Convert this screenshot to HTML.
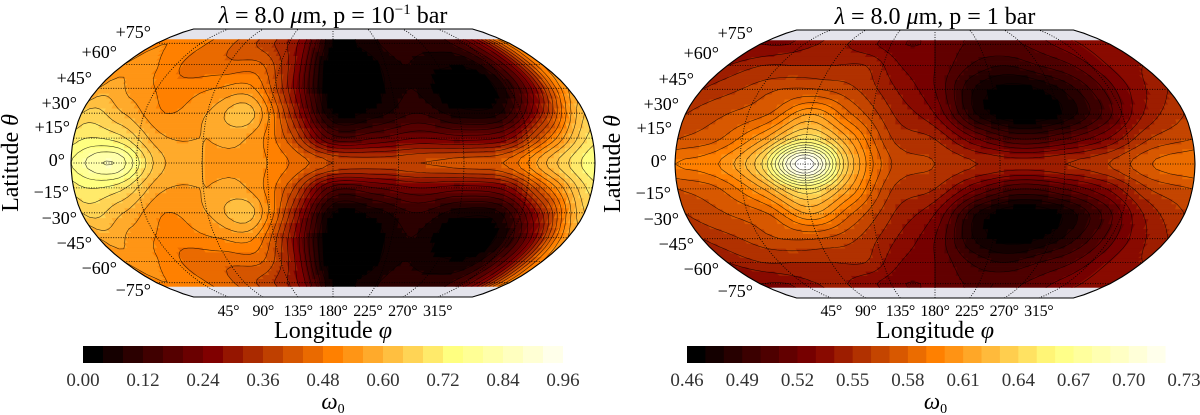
<!DOCTYPE html>
<html><head><meta charset="utf-8"><style>
html,body{margin:0;padding:0;background:#fff;}
svg{display:block;font-family:"Liberation Serif",serif;}
</style></head><body>
<svg id="fig" width="1200" height="415" viewBox="0 0 1200 415" xmlns="http://www.w3.org/2000/svg">
<g id="pL"></g>
<g id="pR"></g>
</svg>
<script>
// ---- data ----
const lons = [0,30,60,90,120,150,180,210,240,270,300,330,360];
const latRows = [75,60,45,30,15,0]; // mirrored for southern hemisphere
const leftVals = [
 [0.50,0.50,0.47,0.42,0.36,0.25,0.04,0.05,0.10,0.10,0.12,0.25,0.50],
 [0.52,0.52,0.46,0.45,0.44,0.26,0.00,0.02,0.08,0.05,0.06,0.22,0.52],
 [0.56,0.54,0.50,0.52,0.52,0.28,0.00,0.02,0.08,0.01,0.02,0.22,0.56],
 [0.64,0.60,0.52,0.56,0.62,0.35,0.04,0.06,0.12,0.06,0.08,0.32,0.64],
 [0.70,0.70,0.57,0.56,0.56,0.42,0.18,0.20,0.24,0.22,0.26,0.48,0.70],
 [0.76,0.84,0.62,0.56,0.55,0.48,0.40,0.38,0.40,0.42,0.45,0.62,0.76]
];
const rightVals = [
 [0.53,0.53,0.54,0.54,0.53,0.52,0.52,0.51,0.51,0.51,0.52,0.53,0.53],
 [0.54,0.55,0.55,0.55,0.55,0.53,0.52,0.50,0.49,0.50,0.51,0.53,0.54],
 [0.55,0.56,0.57,0.57,0.56,0.54,0.52,0.48,0.465,0.475,0.50,0.53,0.55],
 [0.56,0.57,0.58,0.61,0.58,0.55,0.53,0.48,0.46,0.47,0.50,0.54,0.56],
 [0.57,0.58,0.61,0.65,0.61,0.56,0.55,0.52,0.50,0.51,0.53,0.56,0.57],
 [0.59,0.60,0.64,0.73,0.63,0.57,0.56,0.55,0.545,0.55,0.56,0.58,0.59]
];
const leftTicks = ["0.00","0.12","0.24","0.36","0.48","0.60","0.72","0.84","0.96"];
const rightTicks = ["0.46","0.49","0.52","0.55","0.58","0.61","0.64","0.67","0.70","0.73"];
const lonTickLabels = ["45°","90°","135°","180°","225°","270°","315°"];
const latTickLabels = ["+75°","+60°","+45°","+30°","+15°","0°","−15°","−30°","−45°","−60°","−75°"];

const NS="http://www.w3.org/2000/svg";
const XF=[1,0.9986,0.9954,0.99,0.9822,0.973,0.96,0.9427,0.9216,0.8962,0.8679,0.835,0.7986,0.7597,0.7186,0.6732,0.6213,0.5722,0.5322];
const YR=[0,0.062,0.124,0.186,0.248,0.31,0.372,0.434,0.4958,0.5571,0.6176,0.6769,0.7346,0.7903,0.8435,0.8936,0.9394,0.9761,1];
function interp(tab,step,a){a=Math.min(Math.abs(a),90);const i=Math.min(Math.floor(a/step),tab.length-2);const f=a/step-i;return tab[i]*(1-f)+tab[i+1]*f;}
function afmhot(t){const c=v=>Math.round(255*Math.max(0,Math.min(1,v)));return `rgb(${c(2*t)},${c(2*t-0.5)},${c(2*t-1)})`;}
function el(tag,attrs,parent){const e=document.createElementNS(NS,tag);for(const k in attrs)e.setAttribute(k,attrs[k]);parent.appendChild(e);return e;}
function cr(p0,p1,p2,p3,t){return 0.5*((2*p1)+(-p0+p2)*t+(2*p0-5*p1+4*p2-p3)*t*t+(-p0+3*p1-3*p2+p3)*t*t*t);}

function value(vals,lon,lat){
  // full rows lat -75..75 (index 0..10)
  const row=k=>{const a=Math.abs(-75+15*Math.max(0,Math.min(10,k)));return vals[(75-a)/15];};
  const colv=(r,c)=>{c=((c%12)+12)%12;return r[c];};
  const lonAt=(r,x)=>{const c=Math.floor(x/30),t=x/30-c;return cr(colv(r,c-1),colv(r,c),colv(r,c+1),colv(r,c+2),t);};
  const y=(lat+75)/15;const k=Math.min(Math.floor(y),9),t=y-k;
  return cr(lonAt(row(k-1),lon),lonAt(row(k),lon),lonAt(row(k+1),lon),lonAt(row(k+2),lon),t);
}

function panel(g,cfg){
  const H=134;
  const P=(lon,lat)=>[cfg.cx+(lon-180)/180*cfg.hw*interp(XF,5,lat), cfg.cy-Math.sign(lat)*H*interp(YR,5,lat)];
  let pts=[];
  for(let la=90;la>=-90;la-=2.5)pts.push(P(360,la));
  for(let la=-90;la<=90;la+=2.5)pts.push(P(0,la));
  const d="M"+pts.map(p=>p[0].toFixed(1)+","+p[1].toFixed(1)).join("L")+"Z";
  const bg=el("path",{d:d,fill:"#e4e4ec"},g);
  
  
  const cells=el("g",{},g);
  
  
  const LMAX=78,dLon=4,nx=90,ny=52,dLat=2*LMAX/ny;
  const lvl=v=>Math.max(0,Math.min(cfg.n-1,Math.floor((v-cfg.vmin)/cfg.step+1e-9)));
  const col=i=>afmhot(i/(cfg.n-1));
  const vv=(lo,la)=>value(cfg.vals,lo,Math.max(-75,Math.min(75,la)));
  const grid=[];
  for(let j=0;j<=ny;j++){grid.push([]);for(let i=0;i<=nx;i++)grid[j].push(vv(i*dLon,-LMAX+j*dLat));}
  for(let j=0;j<ny;j++){
    const la0=-LMAX+j*dLat,la1=la0+dLat;
    let i=0;
    while(i<nx){
      const L=lvl(vv((i+0.5)*dLon,la0+dLat/2));let k=i+1;
      while(k<nx&&lvl(vv((k+0.5)*dLon,la0+dLat/2))===L)k++;
      const q=[];
      for(let s=i;s<=k;s++)q.push(P(s*dLon,la0));
      for(let s=k;s>=i;s--)q.push(P(s*dLon,la1));
      const c=el("path",{d:"M"+q.map(p=>p[0].toFixed(1)+","+p[1].toFixed(1)).join("L")+"Z",fill:col(L),stroke:col(L),"stroke-width":"0.6"},cells);
      
      
      i=k;
    }
  }
  let cd="";
  for(let L=1;L<cfg.n;L++){
    const th=cfg.vmin+L*cfg.step;
    for(let j=0;j<ny;j++)for(let i=0;i<nx;i++){
      const v=[grid[j][i],grid[j][i+1],grid[j+1][i+1],grid[j+1][i]];
      const c=[[i,j],[i+1,j],[i+1,j+1],[i,j+1]];
      const e=[];
      for(let s=0;s<4;s++){const a=v[s],b=v[(s+1)%4];if((a<th)!==(b<th)){const f=(th-a)/(b-a);const p0=c[s],p1=c[(s+1)%4];e.push(P((p0[0]+(p1[0]-p0[0])*f)*dLon,-LMAX+(p0[1]+(p1[1]-p0[1])*f)*dLat));}}
      for(let s=0;s+1<e.length;s+=2)cd+=`M${e[s][0].toFixed(1)},${e[s][1].toFixed(1)}L${e[s+1][0].toFixed(1)},${e[s+1][1].toFixed(1)}`;
    }
  }
  const cl=el("path",{d:cd,fill:"none",stroke:"#000","stroke-width":"0.6","stroke-opacity":"0.75"},g);
  
  
  let gd="";
  for(let la=-75;la<=75;la+=15){const a=P(0,la),b=P(360,la);gd+=`M${a[0].toFixed(1)},${a[1].toFixed(1)}L${b[0].toFixed(1)},${b[1].toFixed(1)}`;}
  for(let lo=45;lo<360;lo+=45){const q=[];for(let la=-90;la<=90;la+=5)q.push(P(lo,la));gd+="M"+q.map(p=>p[0].toFixed(1)+","+p[1].toFixed(1)).join("L");}
  const gl=el("path",{d:gd,fill:"none",stroke:"#000","stroke-width":"0.8","stroke-dasharray":"1,1.5"},g);
  
  
  const ol=el("path",{d:d,fill:"none",stroke:"#000","stroke-width":"1.1"},g);
  
  
  const latY=[32,52,78,103,127,160,192,218,243,268,290];
  const latR=[151,117,92,77,70,65,69,77,92,117,151];
  latTickLabels.forEach((t,k)=>{const tx=el("text",{x:latR[k]+cfg.cx-333,y:latY[k]+cfg.cy-163+6,"text-anchor":"end","font-size":"18"},g);tx.textContent=t;
    
    });
  lonTickLabels.forEach((t,k)=>{const lo=45*(k+1);const x=cfg.cx+(lo-180)/180*cfg.hw*0.5322;const tx=el("text",{x:x,y:316,"text-anchor":"middle","font-size":"16","letter-spacing":"-0.3"},g);tx.textContent=t;
    
    });
  const xt=el("text",{x:cfg.cx,y:338,"text-anchor":"middle","font-size":"24"},g);xt.innerHTML='Longitude <tspan font-style="italic">φ</tspan>';
  
  
  const yt=el("text",{x:0,y:0,"text-anchor":"middle","font-size":"24",transform:`translate(${cfg.cx-315},${cfg.cy}) rotate(-90)`},g);yt.innerHTML='Latitude <tspan font-style="italic">θ</tspan>';
  
  
  const ti=el("text",{x:cfg.cx,y:cfg.cy-140,"text-anchor":"middle","font-size":"24"},g);ti.innerHTML=cfg.title;
  
  
  const cb=el("g",{},g);
  
  
  const w=(cfg.cb1-cfg.cb0)/cfg.n;
  for(let L=0;L<cfg.n;L++){const r=el("rect",{x:cfg.cb0+L*w,y:346,width:w+0.4,height:17,fill:col(L)},cb);
    
    }
  cfg.ticks.forEach((t,k)=>{const v=parseFloat(t);const x=cfg.cb0+(v-cfg.vmin)/cfg.step*w;const tx=el("text",{x:x,y:386,"text-anchor":"middle","font-size":"19","fill":"#333"},cb);tx.textContent=t;
    
    });
  const cbl=el("text",{x:(cfg.cb0+cfg.cb1)/2,y:409,"text-anchor":"middle","font-size":"23","font-style":"italic"},cb);cbl.innerHTML='ω<tspan font-size="14" font-style="normal" dy="4">0</tspan>';
  
  
}
panel(document.getElementById("pL"),{cx:333,cy:163,hw:262,vals:leftVals,vmin:0,step:0.04,n:25,cb0:83,cb1:583,ticks:leftTicks,
  title:'<tspan font-style="italic">λ</tspan> = 8.0 <tspan font-style="italic">μ</tspan>m, p = 10<tspan font-size="15" dy="-9">−1</tspan><tspan dy="9"> bar</tspan>'});
panel(document.getElementById("pR"),{cx:935,cy:164,hw:260,vals:rightVals,vmin:0.46,step:0.01,n:27,cb0:687,cb1:1184,ticks:rightTicks,
  title:'<tspan font-style="italic">λ</tspan> = 8.0 <tspan font-style="italic">μ</tspan>m, p = 1 bar'});
</script>
</body></html>
